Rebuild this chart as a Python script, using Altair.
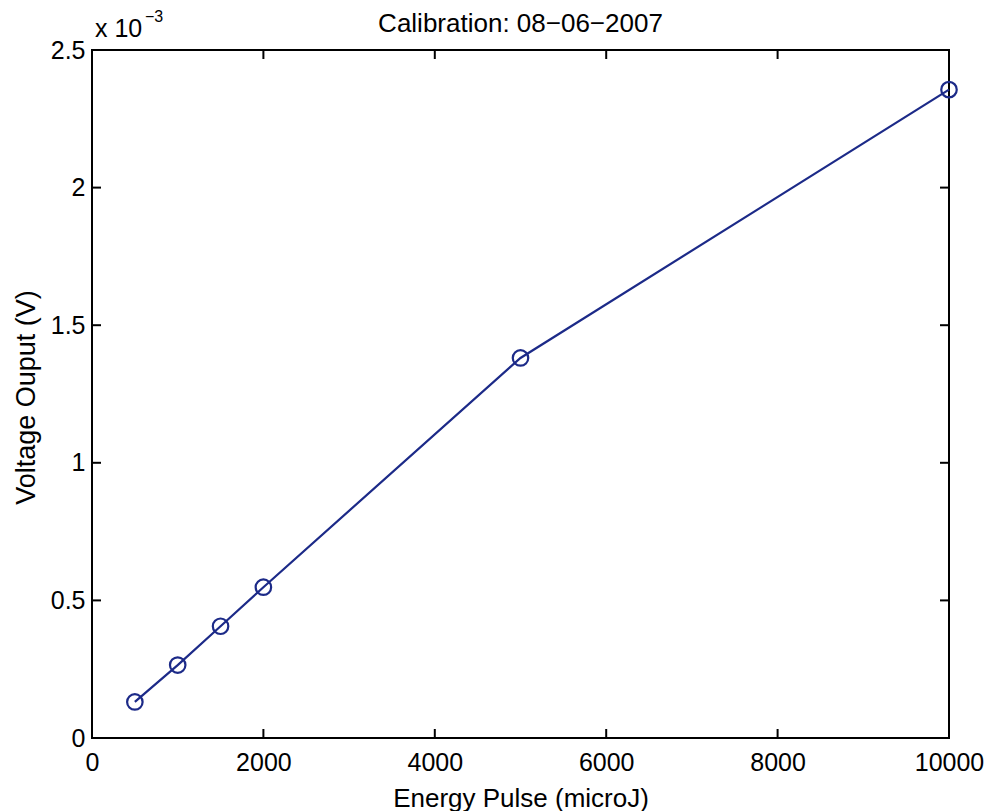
import altair as alt
import pandas as pd

# ---- data ----
energy = [500, 1000, 1500, 2000, 5000, 10000]
voltage = [0.000131, 0.000265, 0.000406, 0.000548, 0.001381, 0.002356]
x_ticks = [0, 2000, 4000, 6000, 8000, 10000]
y_ticks = [0, 0.0005, 0.001, 0.0015, 0.002, 0.0025]
title_text = "Calibration: 08\u221206\u22122007"
x_title = "Energy Pulse (microJ)"
y_title = "Voltage Ouput (V)"

W, H = 857, 688
FONT = "Liberation Sans"
BLUE = "#1c2a88"
TICK = 9

df = pd.DataFrame({"energy": energy, "voltage": voltage})
xt = pd.DataFrame({"xt": x_ticks})
yt = pd.DataFrame({"yt": y_ticks})

xscale = alt.Scale(domain=[0, 10000], nice=False, zero=True)
yscale = alt.Scale(domain=[0, 0.0025], nice=False, zero=True)

xaxis = alt.Axis(values=x_ticks, title=x_title, ticks=False, domain=False, grid=False,
                 format="d",
                 labelFontSize=25, labelFont=FONT, labelColor="black", labelPadding=12,
                 labelFlush=False, titleFontSize=26, titleFont=FONT, titleFontWeight="normal",
                 titleColor="black", titleY=68, titleBaseline="alphabetic")
yaxis = alt.Axis(values=y_ticks, title=y_title, ticks=False, domain=False, grid=False,
                 labelExpr="round(datum.value*10000)/10",
                 labelFontSize=25, labelFont=FONT, labelColor="black", labelPadding=7,
                 labelFlush=False, titleFontSize=27, titleFont=FONT, titleFontWeight="normal",
                 titleColor="black", titleAngle=270, titleX=-58, titleY=H / 2 + 3,
                 titleBaseline="alphabetic", titleAlign="center")

line = alt.Chart(df).mark_line(color=BLUE, strokeWidth=2.2).encode(
    x=alt.X("energy:Q", scale=xscale, axis=xaxis),
    y=alt.Y("voltage:Q", scale=yscale, axis=yaxis),
)

points = alt.Chart(df).mark_point(shape="circle", filled=False, color=BLUE, size=240,
                                  strokeWidth=2.2, opacity=1).encode(
    x=alt.X("energy:Q", scale=xscale, title=x_title),
    y=alt.Y("voltage:Q", scale=yscale, title=y_title),
)

tick_style = dict(color="black", strokeWidth=2)
xb = alt.Chart(xt).mark_rule(**tick_style).encode(
    x=alt.X("xt:Q", scale=xscale, title=x_title), y=alt.value(H), y2=alt.value(H - TICK))
xtp = alt.Chart(xt).mark_rule(**tick_style).encode(
    x=alt.X("xt:Q", scale=xscale, title=x_title), y=alt.value(0), y2=alt.value(TICK))
yl = alt.Chart(yt).mark_rule(**tick_style).encode(
    y=alt.Y("yt:Q", scale=yscale, title=y_title), x=alt.value(0), x2=alt.value(TICK))
yr = alt.Chart(yt).mark_rule(**tick_style).encode(
    y=alt.Y("yt:Q", scale=yscale, title=y_title), x=alt.value(W), x2=alt.value(W - TICK))

title_mark = alt.Chart(pd.DataFrame({"t": [title_text]})).mark_text(
    font=FONT, fontSize=26, align="center", baseline="alphabetic", color="black").encode(
    text="t:N", x=alt.value(W / 2), y=alt.value(-18))
exp_base = alt.Chart(pd.DataFrame({"t": ["x 10"]})).mark_text(
    font=FONT, fontSize=25, align="left", baseline="alphabetic", color="black").encode(
    text="t:N", x=alt.value(3), y=alt.value(-13))
exp_sup = alt.Chart(pd.DataFrame({"t": ["\u22123"]})).mark_text(
    font=FONT, fontSize=16, align="left", baseline="alphabetic", color="black").encode(
    text="t:N", x=alt.value(53), y=alt.value(-28))

chart = alt.layer(line, points, xb, xtp, yl, yr, title_mark, exp_base, exp_sup).properties(
    width=W, height=H,
    autosize=alt.AutoSizeParams(type="none"),
    padding={"left": 92, "top": 50, "right": 40, "bottom": 73},
    background="white",
).configure_view(stroke="black", strokeWidth=2)

chart.save("out.html", embed_options={"renderer": "svg", "actions": False})
